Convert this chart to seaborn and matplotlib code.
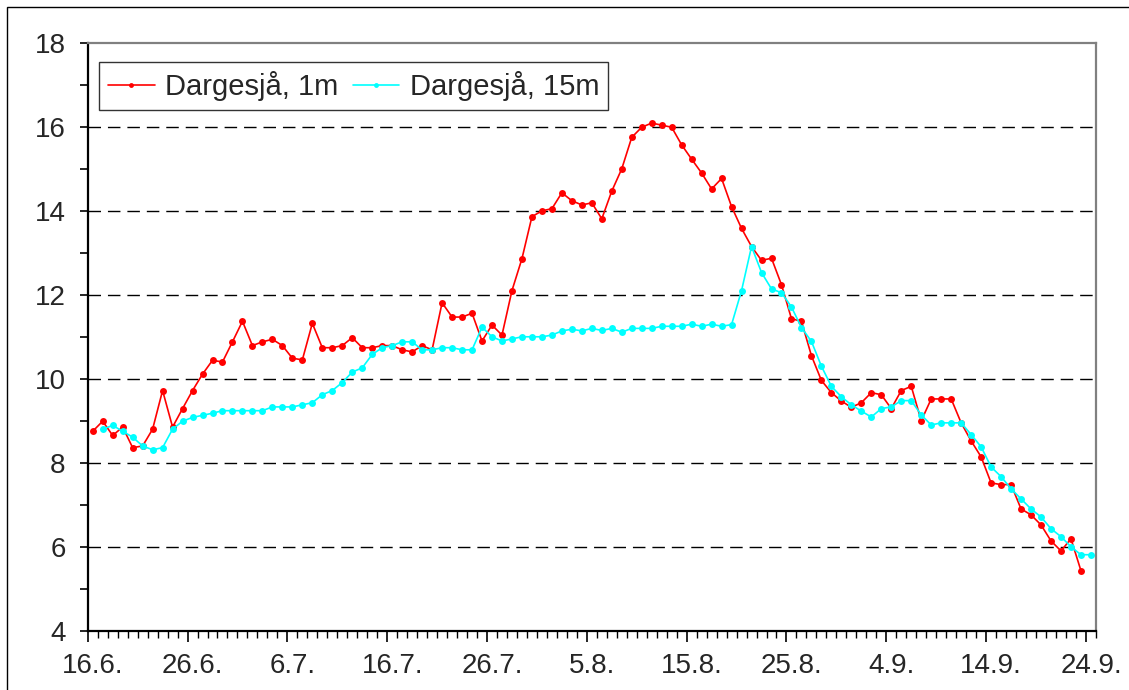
import numpy as np
import pandas as pd
import matplotlib
matplotlib.use("Agg")
import matplotlib.pyplot as plt
import matplotlib.transforms as mtransforms
from matplotlib.patches import Rectangle
import seaborn as sns

# daily water temperature, 16.6. - 24.9. (day index 0..100)
tick_labels = ["16.6.", "26.6.", "6.7.", "16.7.", "26.7.", "5.8.",
               "15.8.", "25.8.", "4.9.", "14.9.", "24.9."]

# Dargesjå, 1m : days 0..99
temp_1m = [8.75, 8.99, 8.65, 8.85, 8.36, 8.40, 8.80, 9.72, 8.85, 9.29,
           9.72, 10.11, 10.44, 10.40, 10.88, 11.37, 10.79, 10.88, 10.94, 10.79,
           10.49, 10.45, 11.32, 10.74, 10.74, 10.79, 10.98, 10.74, 10.74, 10.79,
           10.79, 10.69, 10.64, 10.79, 10.69, 11.81, 11.47, 11.47, 11.56, 10.90,
           11.28, 11.04, 12.10, 12.86, 13.86, 14.00, 14.05, 14.43, 14.24, 14.14,
           14.19, 13.81, 14.47, 15.00, 15.75, 15.99, 16.09, 16.04, 15.99, 15.57,
           15.23, 14.90, 14.52, 14.77, 14.10, 13.58, 13.15, 12.82, 12.87, 12.24,
           11.43, 11.37, 10.55, 9.96, 9.67, 9.47, 9.32, 9.43, 9.67, 9.62,
           9.29, 9.72, 9.82, 9.00, 9.52, 9.52, 9.52, 8.95, 8.52, 8.14,
           7.52, 7.48, 7.48, 6.90, 6.76, 6.52, 6.14, 5.90, 6.19, 5.43]

# Dargesjå, 15m : days 1..100
temp_15m = [8.80, 8.89, 8.75, 8.61, 8.40, 8.31, 8.36, 8.80, 8.99,
            9.08, 9.13, 9.18, 9.24, 9.24, 9.24, 9.24, 9.24, 9.33, 9.33,
            9.33, 9.38, 9.43, 9.62, 9.72, 9.91, 10.16, 10.26, 10.58, 10.74,
            10.79, 10.88, 10.88, 10.69, 10.69, 10.74, 10.74, 10.69, 10.69, 11.23,
            11.00, 10.90, 10.95, 11.00, 11.00, 11.00, 11.04, 11.14, 11.18, 11.14,
            11.20, 11.15, 11.20, 11.11, 11.20, 11.20, 11.20, 11.25, 11.25, 11.25,
            11.30, 11.25, 11.30, 11.25, 11.29, 12.10, 13.15, 12.53, 12.14, 12.05,
            11.71, 11.22, 10.89, 10.30, 9.82, 9.57, 9.38, 9.23, 9.09, 9.29,
            9.33, 9.48, 9.48, 9.14, 8.90, 8.95, 8.95, 8.95, 8.67, 8.38,
            7.90, 7.67, 7.38, 7.14, 6.90, 6.71, 6.43, 6.24, 6.00, 5.81, 5.81]

sns.set_style("white")
plt.rcParams['font.family'] = ['Liberation Sans', 'DejaVu Sans']

# each day is one category slot, points sit in the middle of the slot
df_1m = pd.DataFrame({'day': np.arange(len(temp_1m)) + 0.5, 'temp': temp_1m})
df_15m = pd.DataFrame({'day': np.arange(1, len(temp_15m) + 1) + 0.5, 'temp': temp_15m})

fig = plt.figure(figsize=(11.29, 6.90), dpi=100)
ax = fig.add_axes([0.0777, 0.0859, 0.893, 0.852])

sns.lineplot(data=df_1m, x='day', y='temp', ax=ax, color='#FF0000', lw=1.2,
             marker='o', markersize=5, markeredgewidth=0, label='Dargesjå, 1m')
sns.lineplot(data=df_15m, x='day', y='temp', ax=ax, color='#00FFFF', lw=1.2,
             marker='o', markersize=5, markeredgewidth=0, label='Dargesjå, 15m')

ax.set_xlim(0, 101)
ax.set_ylim(4, 18)
ax.set_xlabel("")
ax.set_ylabel("")

# y axis
ax.set_yticks(np.arange(4, 19, 2))
ax.set_yticks(np.arange(5, 18, 2), minor=True)
ax.tick_params(axis='y', which='both', direction='out', length=6, width=1.2,
               color='black', left=True, labelsize=20, pad=10)
for v in range(6, 18, 2):
    ax.axhline(v, color='black', lw=1, dashes=(9, 5), zorder=0)

# x axis: long ticks every 10 days, short tick every day
ax.set_xticks(np.arange(0, 101, 10))
ax.set_xticklabels(tick_labels)
ax.set_xticks(np.arange(0, 102, 1), minor=True)
ax.tick_params(axis='x', which='major', direction='out', length=8, width=1.2,
               color='black', bottom=True, labelsize=20, pad=8)
ax.tick_params(axis='x', which='minor', direction='out', length=5, width=1,
               color='black', bottom=True)
offset = mtransforms.ScaledTranslation(5 / 100, 0, fig.dpi_scale_trans)
for lab in ax.get_xticklabels():
    lab.set_transform(lab.get_transform() + offset)

for side in ['left', 'bottom']:
    ax.spines[side].set_color('black')
    ax.spines[side].set_linewidth(1.6)
for side in ['top', 'right']:
    ax.spines[side].set_color('#808080')
    ax.spines[side].set_linewidth(1.6)

leg = ax.legend(loc='upper left', bbox_to_anchor=(0.0115, 0.9667), ncol=2,
                fontsize=21, frameon=True, fancybox=False, borderaxespad=0,
                handlelength=1.6, handletextpad=0.35, columnspacing=0.5,
                borderpad=0.3)
leg.get_frame().set_edgecolor('black')
leg.get_frame().set_linewidth(1.0)
for h in leg.legend_handles:
    h.set_markersize(3.5)

# outer chart frame
fig.patches.append(Rectangle((7 / 1129, -0.1), 2, 1.1 - 7 / 690, fill=False,
                             edgecolor='black', lw=1, transform=fig.transFigure))

fig.savefig("out.png", dpi=100)
